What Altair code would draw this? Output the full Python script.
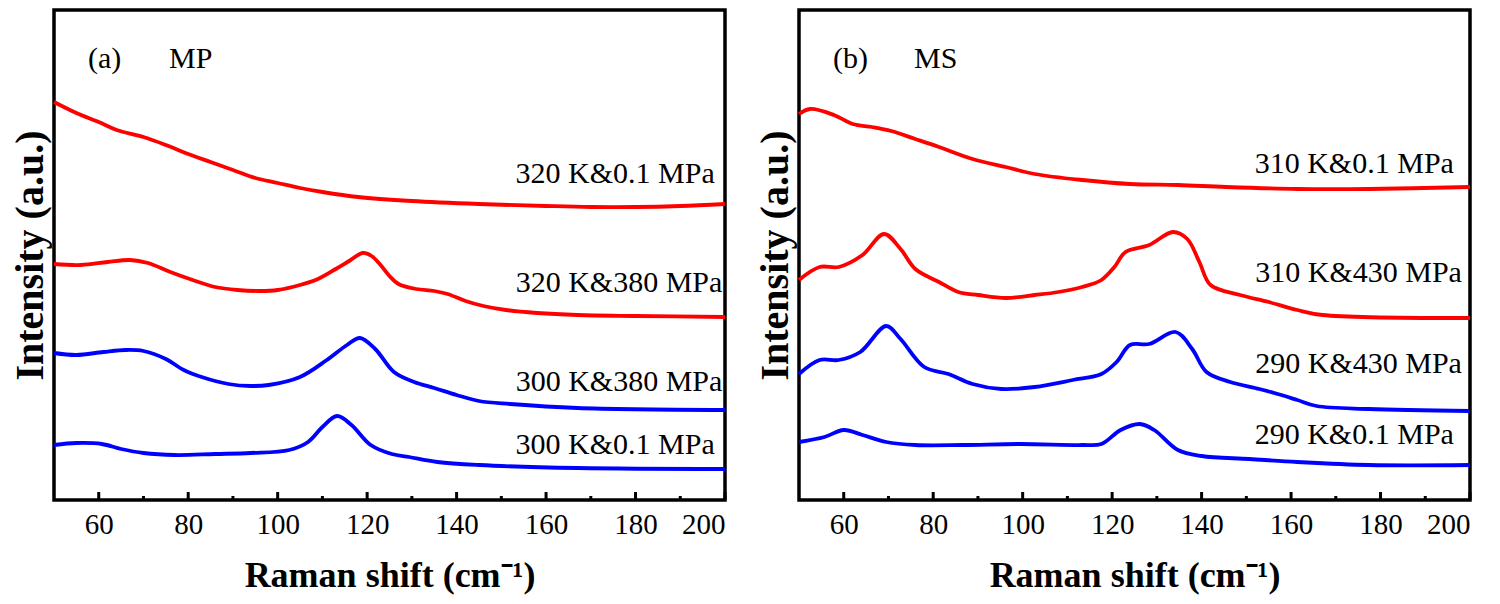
import altair as alt
import pandas as pd

# ---------------- Panel (a) MP ----------------
a_r1_x = [50, 55, 60, 64, 70, 75, 80, 85, 90, 95, 100, 105, 110, 118, 130, 145, 160, 170, 180, 190, 200]
a_r1_y = [387, 376, 367, 359, 352, 344, 335, 327, 319, 311, 306, 301, 297, 292, 288, 285, 283, 282, 282, 283, 285]

a_r2_x = [50, 56, 62, 67, 71, 76, 81, 86, 91, 96, 100, 105, 109, 113, 116, 119, 121, 123, 125, 127,
          131, 135, 138, 142, 146, 151, 158, 167, 180, 200]
a_r2_y = [225, 224, 227, 229, 226, 217, 209, 202, 199, 198, 199, 204, 210, 220, 228, 236, 233, 224, 213, 205,
          200, 198, 195, 188, 183, 179, 176, 174, 173, 172]

a_b1_x = [50, 55, 61, 66, 70, 75, 79, 83, 89, 94, 98, 105, 111, 115.5, 118.4, 121.8, 126, 130.5, 135, 140,
          145, 152, 167, 200]
a_b1_y = [136, 134, 137, 139, 138, 130, 119, 112, 105, 103, 104, 112, 129, 144, 151, 140, 117, 107, 101, 94,
          88, 85, 81, 79]

a_b2_x = [50, 55, 60.7, 65, 70, 77, 86, 94, 102.6, 106.8, 110, 113.3, 116.5, 120.8, 125.5, 129.4, 135.7,
          145, 167, 200]
a_b2_y = [44, 46, 45, 40, 36, 34, 35, 36, 39, 47, 62, 73, 64, 44, 35, 32, 27, 24, 21, 20]

a_names = ["320 K&0.1 MPa", "320 K&380 MPa", "300 K&380 MPa", "300 K&0.1 MPa"]
a_label_x = [197.7, 199.4, 199.4, 197.7]
a_label_y = [315, 206, 107, 44]

# ---------------- Panel (b) MS ----------------
b_r1_x = [50, 52.5, 57.8, 62, 66.3, 70.6, 76, 81.3, 88.8, 96.2, 102.7, 113.3, 124, 134.7, 145.4, 161.4, 177.4, 200]
b_r1_y = [375, 380, 374, 365, 362, 358, 350, 342, 330, 322, 315, 309, 305, 304, 302, 300, 300, 302]

b_r2_x = [50, 54.6, 58.9, 64.2, 69, 72.7, 76, 81.3, 85.6, 90, 96.2, 102.7, 108, 113.3, 117.6, 120.5, 123,
          128.3, 133.6, 136.8, 139.5, 142, 148.6, 155, 161.4, 167, 200]
b_r2_y = [209, 222, 222, 234, 255, 240, 220, 207, 197, 194, 191, 194, 197, 202, 209, 222, 237,
          244, 257, 250, 227, 204, 194, 187, 179, 174, 171]

b_b1_x = [50, 54.6, 58.9, 63.7, 69.5, 72.7, 78, 83.4, 88.8, 95.2, 102.7, 111.2, 117.6, 121, 124, 128.3,
          134.2, 137.9, 141.1, 146.4, 152.9, 157, 161.4, 165.7, 177.4, 200]
b_b1_y = [115, 129, 129, 137, 163, 150, 122, 115, 105, 100, 102, 109, 115, 127, 144, 145,
          157, 140, 117, 107, 100, 95, 89, 83, 80, 78]

b_b2_x = [50, 55.7, 60, 64.2, 69.5, 76, 86.6, 99.5, 113.3, 117.6, 121.9, 126.2, 129.4, 134.7, 140, 150.7,
          161.4, 177.4, 200]
b_b2_y = [47, 52, 59, 54, 47, 44, 44, 45, 44, 45, 59, 65, 59, 39, 33, 30, 27, 24, 24]

b_names = ["310 K&0.1 MPa", "310 K&430 MPa", "290 K&430 MPa", "290 K&0.1 MPa"]
b_label_x = [196.4, 198.2, 198.2, 196.4]
b_label_y = [325, 216, 125, 54]

series_colors = ["#ff0000", "#ff0000", "#0000ff", "#0000ff"]

major_ticks = [60, 80, 100, 120, 140, 160, 180, 200]
minor_ticks = [70, 90, 110, 130, 150, 170, 190]

FONT = "Liberation Serif"
W, H = 671, 490


def panel(xs_list, ys_list, names, lab_x, lab_y, tag, material):
    rows = []
    for xs, ys, nm in zip(xs_list, ys_list, names):
        for x, y in zip(xs, ys):
            rows.append({"shift": x, "intensity": y, "series": nm})
    df = pd.DataFrame(rows)

    xscale = alt.Scale(domain=[50, 200], nice=False, zero=False)
    yscale = alt.Scale(domain=[-11, 479], nice=False, zero=False)
    xax = alt.Axis(values=major_ticks, ticks=False, domain=False, grid=False,
                   labelFont=FONT, labelFontSize=29, labelColor="black", labelPadding=10,
                   title="Raman shift (cm⁻¹)", titleFont=FONT, titleFontSize=36,
                   titleFontWeight="bold", titleColor="black", titlePadding=19)
    yax = alt.Axis(labels=False, ticks=False, domain=False, grid=False,
                   title="Intensity (a.u.)", titleFont=FONT, titleFontSize=40,
                   titleFontWeight="bold", titleColor="black", titlePadding=4)
    X = alt.X("shift:Q", scale=xscale, axis=xax)
    Y = alt.Y("intensity:Q", scale=yscale, axis=yax)

    lines = alt.Chart(df).mark_line(strokeWidth=3.8, interpolate="catmull-rom").encode(
        x=X, y=Y,
        color=alt.Color("series:N", scale=alt.Scale(domain=names, range=series_colors), legend=None),
        detail="series:N",
    )

    maj = alt.Chart(pd.DataFrame({"shift": major_ticks})).mark_rule(color="black", strokeWidth=3).encode(
        x=X, y=alt.value(H), y2=alt.value(H - 8))
    mnr = alt.Chart(pd.DataFrame({"shift": minor_ticks})).mark_rule(color="black", strokeWidth=3).encode(
        x=X, y=alt.value(H), y2=alt.value(H - 4))

    labels = alt.Chart(pd.DataFrame({"shift": lab_x, "intensity": lab_y, "label": names})).mark_text(
        align="right", baseline="middle", font=FONT, fontSize=30, color="black").encode(
        x=X, y=Y, text="label:N")

    tags = alt.Chart(pd.DataFrame({"shift": [57.6, 75.7], "intensity": [430, 430],
                                   "label": [tag, material]})).mark_text(
        align="left", baseline="middle", font=FONT, fontSize=30, color="black").encode(
        x=X, y=Y, text="label:N")

    return alt.layer(lines, maj, mnr, labels, tags).properties(width=W, height=H)


pa = panel([a_r1_x, a_r2_x, a_b1_x, a_b2_x], [a_r1_y, a_r2_y, a_b1_y, a_b2_y],
           a_names, a_label_x, a_label_y, "(a)", "MP")
pb = panel([b_r1_x, b_r2_x, b_b1_x, b_b2_x], [b_r1_y, b_r2_y, b_b1_y, b_b2_y],
           b_names, b_label_x, b_label_y, "(b)", "MS")

chart = alt.hconcat(pa, pb, spacing=18).properties(
    padding={"left": 0, "top": 0, "right": 0, "bottom": 0}, background="white"
).configure_view(stroke="black", strokeWidth=3.5)

chart.save("out.html", embed_options={"renderer": "svg", "actions": False})
